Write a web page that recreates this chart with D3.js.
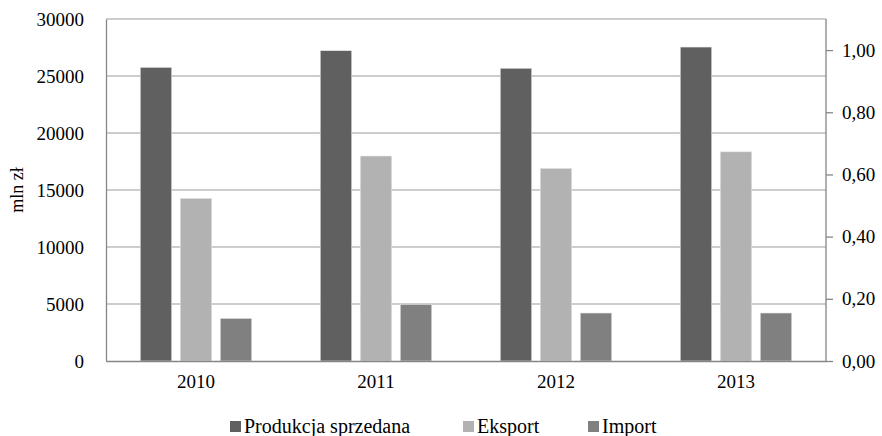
<!DOCTYPE html>
<html>
<head>
<meta charset="utf-8">
<script src="https://cdn.jsdelivr.net/npm/d3@7"></script>
<style>
  body { margin: 0; background: #fff; }
</style>
</head>
<body>
<div id="chart"></div>
<script>
// data
var years = ["2010", "2011", "2012", "2013"];
var seriesNames = ["Produkcja sprzedana", "Eksport", "Import"];
var produkcja = [25760, 27220, 25680, 27540];
var eksport = [14270, 17980, 16900, 18350];
var importVals = [3740, 4970, 4210, 4210];
var leftTicks = [0, 5000, 10000, 15000, 20000, 25000, 30000];
var rightTicks = [0, 0.2, 0.4, 0.6, 0.8, 1.0];
var colors = ["#606060", "#b2b2b2", "#808080"];

var values = [produkcja, eksport, importVals];
var FONT = "'Liberation Serif', 'Times New Roman', 'DejaVu Serif', serif";

var W = 882, H = 436;
var margin = { top: 19, right: 56, bottom: 75, left: 106 },
  width = W - margin.left - margin.right,
  height = H - margin.top - margin.bottom;

var svg = d3.select("#chart").append("svg")
  .attr("width", W).attr("height", H)
  .style("font-family", FONT);

var g = svg.append("g")
  .attr("transform", "translate(" + margin.left + "," + margin.top + ")");

var x0 = d3.scaleBand().domain(years).range([0, width]).padding(0);
var x1 = d3.scaleBand().domain(d3.range(seriesNames.length))
  .range([0, x0.bandwidth()]).paddingInner(0.2125).paddingOuter(0.856);

var y = d3.scaleLinear().domain([0, 30000]).range([height, 0]);
var y2 = d3.scaleLinear().domain([0, 1.1]).range([height, 0]);

// gridlines
g.append("g").selectAll("line")
  .data(leftTicks.slice(1))
  .enter().append("line")
  .attr("x1", 0).attr("x2", width)
  .attr("y1", function (d) { return y(d); })
  .attr("y2", function (d) { return y(d); })
  .attr("stroke", "#bdbdbd").attr("stroke-width", 1.3);

// bars
values.forEach(function (vals, si) {
  g.append("g").selectAll("rect")
    .data(vals)
    .enter().append("rect")
    .attr("x", function (d, i) { return x0(years[i]) + x1(si); })
    .attr("y", function (d) { return y(d); })
    .attr("width", x1.bandwidth())
    .attr("height", function (d) { return height - y(d); })
    .attr("fill", colors[si])
    .attr("stroke", "#e6e6e6").attr("stroke-width", 0.6);
});

// left axis
var yAxis = g.append("g")
  .call(d3.axisLeft(y).tickValues(leftTicks).tickSize(0).tickPadding(22).tickFormat(d3.format("d")));
yAxis.attr("font-family", null).attr("font-size", null);
yAxis.select(".domain").attr("stroke", "#868686").attr("stroke-width", 1.3);
yAxis.selectAll("text").style("font-family", FONT).style("font-size", "19px").attr("fill", "#000");

// right axis
var fmt = function (d) { return d3.format(".2f")(d).replace(".", ","); };
var yAxis2 = g.append("g")
  .attr("transform", "translate(" + width + ",0)")
  .call(d3.axisRight(y2).tickValues(rightTicks).tickSize(7).tickPadding(9).tickFormat(fmt));
yAxis2.attr("font-family", null).attr("font-size", null);
yAxis2.select(".domain").attr("stroke", "#868686").attr("stroke-width", 1.3)
  .attr("d", "M0," + y2(1.1) + "V" + height);
yAxis2.selectAll("line").attr("stroke", "#868686").attr("stroke-width", 1.3);
yAxis2.selectAll("text").style("font-family", FONT).style("font-size", "19px").attr("fill", "#000");

// x axis
var xAxis = g.append("g")
  .attr("transform", "translate(0," + height + ")")
  .call(d3.axisBottom(x0).tickSize(0).tickPadding(14));
xAxis.attr("font-family", null).attr("font-size", null);
xAxis.select(".domain").attr("stroke", "#868686").attr("stroke-width", 1.6);
xAxis.selectAll("text").style("font-family", FONT).style("font-size", "19px").attr("fill", "#000");

// y label
svg.append("text")
  .attr("transform", "translate(23," + (margin.top + height / 2) + ")rotate(-90)")
  .attr("text-anchor", "middle")
  .style("font-family", FONT)
  .style("font-size", "18px")
  .text("mln zł");

// legend
var legendX = [230, 463, 588];
var legend = svg.append("g");
seriesNames.forEach(function (name, i) {
  legend.append("rect")
    .attr("x", legendX[i]).attr("y", 421)
    .attr("width", 11).attr("height", 11)
    .attr("fill", colors[i]);
  legend.append("text")
    .attr("x", legendX[i] + 14).attr("y", 433)
    .style("font-family", FONT)
    .style("font-size", "20px")
    .text(name);
});
</script>
</body>
</html>
